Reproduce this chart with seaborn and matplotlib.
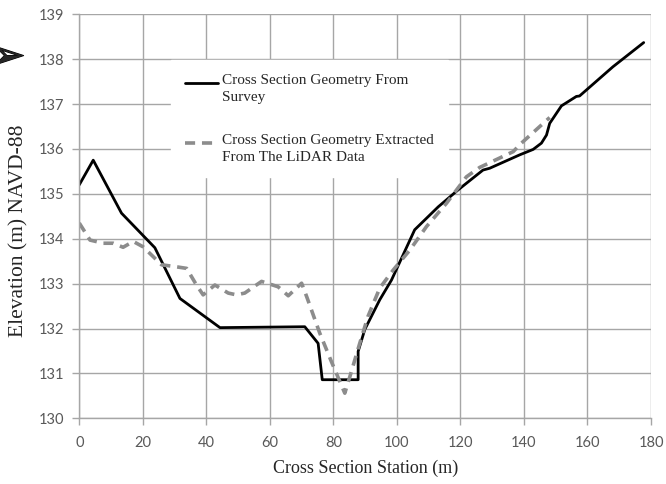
import numpy as np
import pandas as pd
import seaborn as sns
import matplotlib
matplotlib.use("Agg")
from matplotlib import pyplot as plt
from matplotlib import patheffects
from matplotlib.lines import Line2D
from matplotlib.legend_handler import HandlerLine2D

# survey cross section (solid black)
survey_station = [0, 4.4, 13.3, 23.8, 31.7, 44.3, 71.0, 75.2, 76.5, 87.8, 87.8,
                  89.9, 94.6, 98.3, 105.6, 113.0, 119.3, 127.1, 129.2, 138.7,
                  142.9, 145.5, 147.1, 148.1, 151.8, 156.5, 157.5, 168.0, 177.7]
survey_elev = [135.2, 135.75, 134.57, 133.8, 132.67, 132.02, 132.04, 131.67, 130.86, 130.86, 131.49,
               131.98, 132.64, 133.08, 134.2, 134.71, 135.09, 135.53, 135.57, 135.87,
               135.99, 136.13, 136.31, 136.57, 136.96, 137.17, 137.18, 137.83, 138.37]

# lidar cross section (dashed grey)
lidar_station = [0, 3.4, 7.6, 10.7, 13.8, 17.0, 20.1, 25.9, 30.1, 33.8, 36.9, 39.0,
                 42.7, 46.9, 49.5, 52.1, 57.4, 62.6, 65.8, 70.0, 71.6, 75.7, 79.4,
                 83.6, 85.2, 88.3, 90.9, 94.6, 98.8, 104.1, 109.3, 115.6, 121.9,
                 126.1, 136.6, 139.2, 148.1]
lidar_elev = [134.35, 133.97, 133.9, 133.9, 133.81, 133.94, 133.82, 133.42, 133.38, 133.34, 132.97, 132.75,
              132.97, 132.79, 132.75, 132.79, 133.05, 132.93, 132.73, 133.01, 132.71, 131.9, 131.26,
              130.56, 130.93, 131.67, 132.27, 132.9, 133.3, 133.75, 134.27, 134.79, 135.38,
              135.59, 135.94, 136.13, 136.7]

x_ticks = list(range(0, 181, 20))
y_ticks = list(range(130, 140))


class FirstLineHandler(HandlerLine2D):
    # put the legend line level with the first text line
    def create_artists(self, legend, orig_handle, xdescent, ydescent,
                       width, height, fontsize, trans):
        arts = super().create_artists(legend, orig_handle, xdescent, ydescent,
                                      width, height, fontsize, trans)
        for a in arts:
            a.set_ydata(np.asarray(a.get_ydata()) + 0.35 * fontsize)
        return arts


sns.set_style("whitegrid")
plt.rcParams['font.family'] = ['Liberation Serif', 'DejaVu Sans']

fig = plt.figure(figsize=(6.66, 4.84), dpi=100)
ax = fig.add_axes([0.119, 0.1357, 0.8585, 0.8348])

df_s = pd.DataFrame({"station": survey_station, "elev": survey_elev})
df_l = pd.DataFrame({"station": lidar_station, "elev": lidar_elev})

sns.lineplot(data=df_s, x="station", y="elev", ax=ax, color="black", lw=2.0,
             sort=False, estimator=None,
             label="Cross Section Geometry From\nSurvey")
sns.lineplot(data=df_l, x="station", y="elev", ax=ax, color="#8c8c8c", lw=2.6,
             sort=False, estimator=None,
             label="Cross Section Geometry Extracted\nFrom The LiDAR Data")
ax.lines[1].set_dashes([2.8, 1.9])

ax.set_xlim(0, 180)
ax.set_ylim(130, 139)
ax.set_xticks(x_ticks)
ax.set_yticks(y_ticks)
ax.grid(True, color="#a6a6a6", lw=1.0)
for s in ["top", "right"]:
    ax.spines[s].set_visible(False)
for s in ["left", "bottom"]:
    ax.spines[s].set_color("#a6a6a6")
    ax.spines[s].set_linewidth(1.0)
ax.tick_params(axis="both", direction="out", length=5, width=1, color="#a6a6a6",
               labelcolor="#595959", labelsize=10.5, left=True, bottom=True)
for lab in ax.get_xticklabels() + ax.get_yticklabels():
    lab.set_family(["Lato", "DejaVu Sans"])
ax.tick_params(axis="x", pad=8)
ax.tick_params(axis="y", pad=6)

ax.set_xlabel("Cross Section Station (m)", fontsize=13, labelpad=7)
ax.set_ylabel("Elevation (m) NAVD-88", fontsize=15.5)
ax.yaxis.set_label_coords(-0.089, 0.464)

leg = ax.legend(loc="upper left", bbox_to_anchor=(0.161, 0.886), borderaxespad=0,
                frameon=True, fancybox=False, framealpha=1, facecolor="white",
                edgecolor="white", fontsize=11, handlelength=2.15, handletextpad=0.3,
                labelspacing=2.0, borderpad=0.9,
                handler_map={Line2D: FirstLineHandler()})
for t in leg.get_texts():
    t.set_linespacing(1.35)

# arrow bullet cut at the left edge of the page
fig.text(-0.014, 0.883, "\u27a2", fontsize=30, family=["DejaVu Sans"],
         va="center",
         path_effects=[patheffects.withStroke(linewidth=0.8, foreground="black")])

fig.savefig("out.png", dpi=100)
